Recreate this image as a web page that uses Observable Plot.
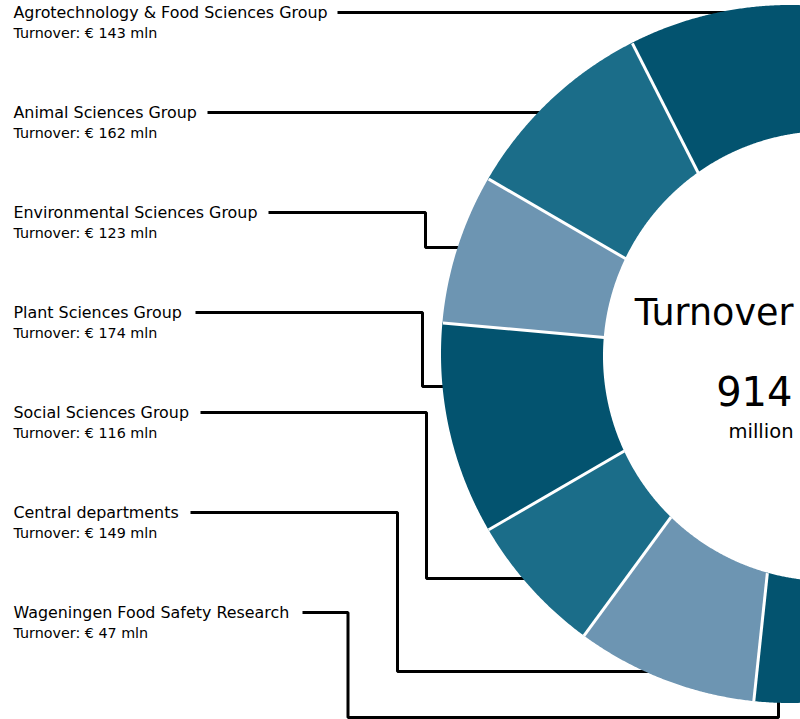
<!DOCTYPE html>
<html>
<head>
<meta charset="utf-8">
<script src="https://cdn.jsdelivr.net/npm/d3@7"></script>
<script src="https://cdn.jsdelivr.net/npm/@observablehq/plot@0.6"></script>
<style>
  html, body { margin: 0; padding: 0; background: #ffffff; }
  #chart svg { display: block; }
</style>
</head>
<body>
<div id="chart"></div>
<script>
// ---------- data ----------
const groups = [
  "Agrotechnology & Food Sciences Group",
  "Animal Sciences Group",
  "Environmental Sciences Group",
  "Plant Sciences Group",
  "Social Sciences Group",
  "Central departments",
  "Wageningen Food Safety Research"
];
const turnover = [143, 162, 123, 174, 116, 149, 47];
const centerTitle = "Turnover";
const centerUnit = "million";
const labelPrefix = "Turnover: € ";
const labelSuffix = " mln";

// ---------- styles / layout (not data) ----------
const shades = ["#03536f", "#1b6d89", "#6d95b2"];
const font = "DejaVu Sans, Verdana, sans-serif";
const W = 800, H = 719;
const outerC = [790, 354], outerR = 349;
const innerC = [828, 356], innerR = 225;
const startDeg = -2.1, endDeg = 183.5;   // angular range for the values
const bleedStartDeg = -5, bleedEndDeg = 186; // ends continue past the crop edge
const rowStep = 100, labelX = 13;
const leaderStartX = [337, 207, 268, 195, 200, 190, 302];
const leaderElbowX = [null, null, 425, 422, 426, 397, 347.5];
const leaderTurnY  = [null, null, 247, 386, 578, 671, 717];
const wfsrTickX = 778;

const rad = d => d * Math.PI / 180;
// angle phi measured counter-clockwise from 12 o'clock (donut opens to the left)
function outerPt(phi) {
  return [outerC[0] - outerR * Math.sin(phi), outerC[1] - outerR * Math.cos(phi)];
}
function innerPt(phi) {
  const d = [-Math.sin(phi), -Math.cos(phi)];
  const w = [outerC[0] - innerC[0], outerC[1] - innerC[1]];
  const b = w[0] * d[0] + w[1] * d[1];
  const c = w[0] * w[0] + w[1] * w[1] - innerR * innerR;
  const t = -b + Math.sqrt(b * b - c);
  return [outerC[0] + t * d[0], outerC[1] + t * d[1]];
}
const outerXAtY = y => outerC[0] - Math.sqrt(outerR * outerR - (y - outerC[1]) ** 2);
const outerYAtX = x => outerC[1] + Math.sqrt(outerR * outerR - (x - outerC[0]) ** 2);

const table = groups.map((g, i) => ({group: g, value: turnover[i], i}));
const arcs = d3.pie().sort(null).value(d => d.value)
  .startAngle(rad(startDeg)).endAngle(rad(endDeg))(table);

// ring polygons sampled along the arc
const ringRows = [];
arcs.forEach((a, j) => {
  const s = j === 0 ? Math.min(a.startAngle, rad(bleedStartDeg)) : a.startAngle;
  const e = j === arcs.length - 1 ? Math.max(a.endAngle, rad(bleedEndDeg)) : a.endAngle;
  const n = Math.max(8, Math.ceil((e - s) / rad(0.25)));
  for (let k = 0; k <= n; k++) {
    const phi = s + (e - s) * k / n;
    const o = outerPt(phi), q = innerPt(phi);
    ringRows.push({group: a.data.group, x1: o[0], y1: o[1], x2: q[0], y2: q[1]});
  }
});

// separators between slices
const seps = arcs.slice(1).map(a => {
  const o = outerPt(a.startAngle), q = innerPt(a.startAngle);
  return {x1: o[0], y1: o[1], x2: q[0], y2: q[1]};
});

// leader lines
const leaderRows = [];
table.forEach((d, i) => {
  const y0 = 12 + rowStep * i;
  let pts;
  if (leaderElbowX[i] == null) {
    pts = [[leaderStartX[i], y0], [outerXAtY(y0) + 8, y0]];
  } else if (i === groups.length - 1) {
    const ty = leaderTurnY[i];
    pts = [[leaderStartX[i], y0], [leaderElbowX[i], y0], [leaderElbowX[i], ty],
           [wfsrTickX, ty], [wfsrTickX, outerYAtX(wfsrTickX) - 6]];
  } else {
    const ty = leaderTurnY[i];
    pts = [[leaderStartX[i], y0], [leaderElbowX[i], y0], [leaderElbowX[i], ty],
           [outerXAtY(ty) + 8, ty]];
  }
  pts.forEach(p => leaderRows.push({group: d.group, x: p[0], y: p[1]}));
});

const total = d3.sum(turnover);

const plot = Plot.plot({
  width: W,
  height: H,
  margin: 0,
  x: {domain: [0, W], range: [0, W], axis: null},
  y: {domain: [0, H], range: [0, H], axis: null},
  color: {domain: groups, range: groups.map((g, i) => shades[i % 3])},
  style: {fontFamily: font, background: "#ffffff", overflow: "hidden"},
  marks: [
    Plot.line(leaderRows, {x: "x", y: "y", z: "group", stroke: "#000000", strokeWidth: 3,
      strokeLinejoin: "miter", strokeLinecap: "butt"}),
    Plot.area(ringRows, {x1: "x1", y1: "y1", x2: "x2", y2: "y2", z: "group", fill: "group"}),
    Plot.link(seps, {x1: "x1", y1: "y1", x2: "x2", y2: "y2", stroke: "#ffffff", strokeWidth: 3}),
    Plot.text(table, {x: labelX, y: d => 17.5 + rowStep * d.i, text: "group",
      textAnchor: "start", lineAnchor: "bottom", fontSize: 15.9, fill: "#000000"}),
    Plot.text(table, {x: labelX, y: d => 37 + rowStep * d.i, text: d => labelPrefix + d.value + labelSuffix,
      textAnchor: "start", lineAnchor: "bottom", fontSize: 14.3, fill: "#000000"}),
    Plot.text([centerTitle], {x: () => 793, y: () => 324, text: d => d,
      textAnchor: "end", lineAnchor: "bottom", fontSize: 36.5, fill: "#000000"}),
    Plot.text([total], {x: () => 792, y: () => 405, text: d => String(d),
      textAnchor: "end", lineAnchor: "bottom", fontSize: 40, fill: "#000000"}),
    Plot.text([centerUnit], {x: () => 793, y: () => 437, text: d => d,
      textAnchor: "end", lineAnchor: "bottom", fontSize: 19.5, fill: "#000000"})
  ]
});
document.getElementById("chart").appendChild(plot);
</script>
</body>
</html>
